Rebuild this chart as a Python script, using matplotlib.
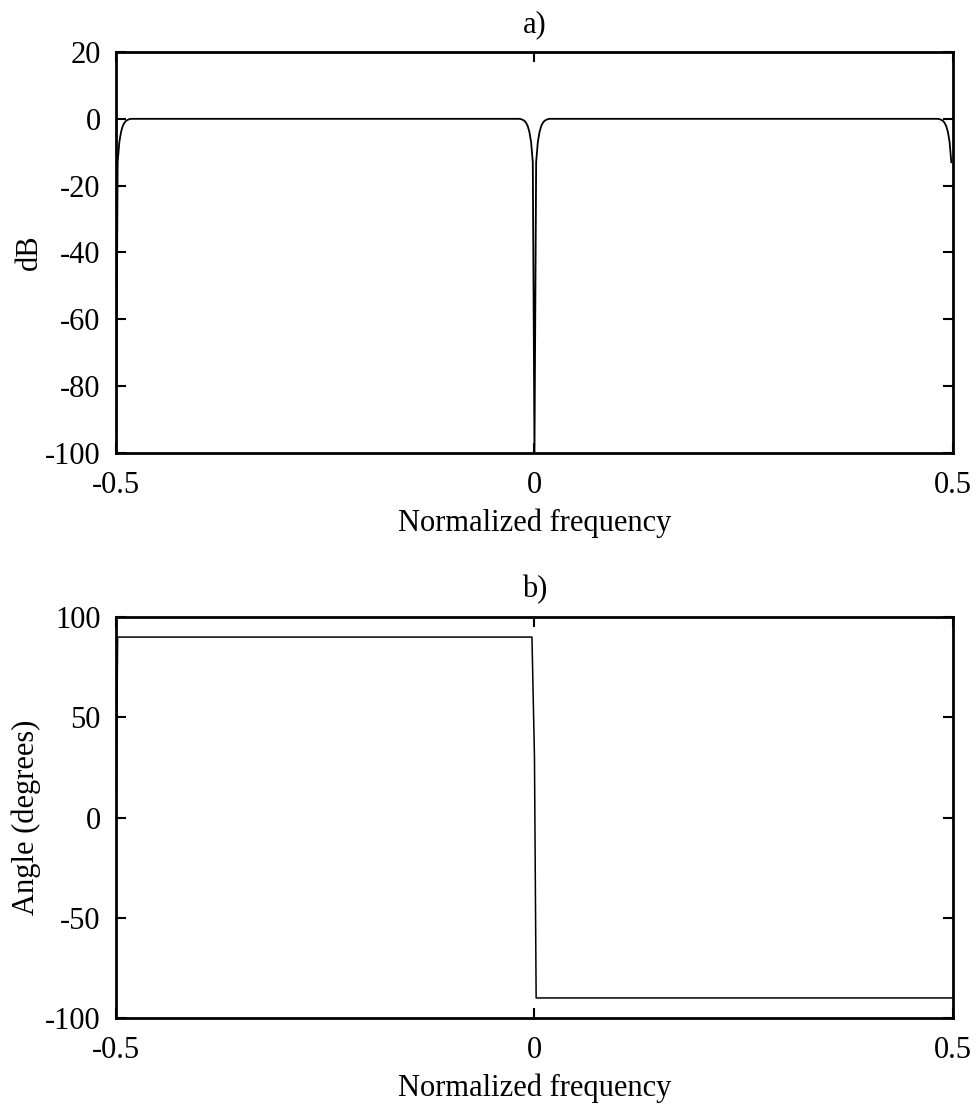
import numpy as np
import matplotlib
matplotlib.use('Agg')
import matplotlib.pyplot as plt

plt.rcParams['font.family'] = ['Liberation Serif', 'DejaVu Serif']
plt.rcParams['font.size'] = 22
plt.rcParams['axes.unicode_minus'] = False

# magnitude response (dB) of the filter, sampled on normalized frequency
mag_freq = [-0.5, -0.498, -0.496, -0.494, -0.492, -0.490, -0.488, -0.486, -0.484, -0.482,
            -0.018, -0.016, -0.014, -0.012, -0.010, -0.008, -0.006, -0.004, -0.002,
            0.0,
            0.002, 0.004, 0.006, 0.008, 0.010, 0.012, 0.014, 0.016, 0.018,
            0.482, 0.484, 0.486, 0.488, 0.490, 0.492, 0.494, 0.496, 0.498]
mag_db = [-100, -13, -7, -4, -2.2, -1.2, -0.6, -0.3, -0.1, 0,
          0, -0.1, -0.3, -0.6, -1.2, -2.2, -4, -7, -13,
          -100,
          -13, -7, -4, -2.2, -1.2, -0.6, -0.3, -0.1, 0,
          0, -0.1, -0.3, -0.6, -1.2, -2.2, -4, -7, -13]

# phase response (degrees)
ph_freq = [-0.5, -0.498, -0.003, 0.0, 0.002, 0.499]
ph_deg = [0, 90, 90, 30, -90, -90]

xticks = [-0.5, 0, 0.5]
xticklabels = ['-0.5', '0', '0.5']
mag_yticks = [-100, -80, -60, -40, -20, 0, 20]
ph_yticks = [-100, -50, 0, 50, 100]

fig = plt.figure(figsize=(9.77, 11.04), dpi=100)
ax1 = fig.add_axes([0.1187, 0.5897, 0.8567, 0.3632])
ax2 = fig.add_axes([0.1187, 0.0779, 0.8567, 0.3632])


def style(ax, yticks):
    ax.set_xlim(-0.5, 0.5)
    ax.set_ylim(yticks[0], yticks[-1])
    ax.set_xticks(xticks)
    ax.set_xticklabels(xticklabels)
    ax.set_yticks(yticks)
    ax.tick_params(direction='in', length=7, width=1.5, top=True, right=True)
    ax.tick_params(axis='x', pad=13)
    ax.tick_params(axis='y', pad=11)
    for s in ax.spines.values():
        s.set_linewidth(2)
    ax.set_xlabel('Normalized frequency', labelpad=6)


ax1.plot(mag_freq, mag_db, color='black', lw=1.3)
style(ax1, mag_yticks)
ax1.set_ylabel('dB')
ax1.yaxis.set_label_coords(-0.086, 0.5)
ax1.set_title('a)', fontsize=22, pad=14)

ax2.plot(ph_freq, ph_deg, color='black', lw=1.1)
style(ax2, ph_yticks)
ax2.set_ylabel('Angle (degrees)')
ax2.yaxis.set_label_coords(-0.090, 0.5)
ax2.set_title('b)', fontsize=22, pad=14)

fig.savefig('out.png', dpi=100)
